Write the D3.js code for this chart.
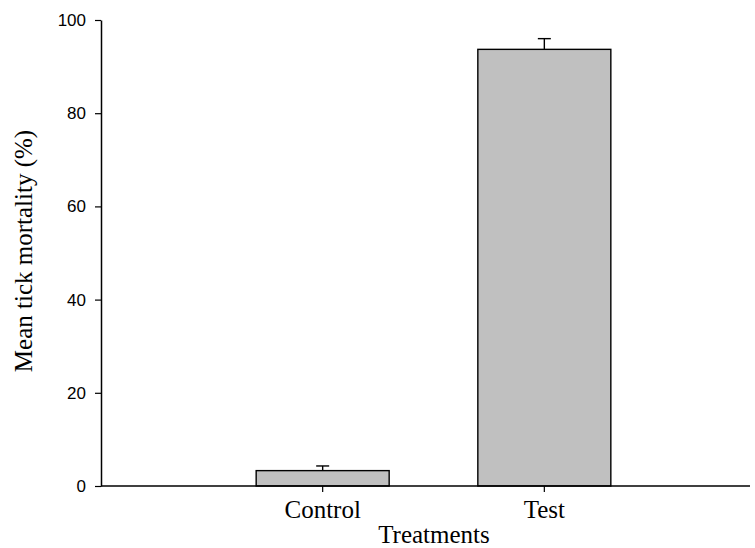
<!DOCTYPE html>
<html><head><meta charset="utf-8">
<script src="https://cdn.jsdelivr.net/npm/d3@7"></script>
<style>body{margin:0;background:#fff}svg{display:block}</style>
</head><body>
<svg id="c" width="755" height="548"></svg>
<script>
const categories = ["Control", "Test"];
const means = [3.3, 93.7];
const errors = [1.0, 2.3];
const yTicks = [0, 20, 40, 60, 80, 100];

(function () {
const svg = d3.select("#c");
const mLeft = 101, mTop = 20, mBottom = 486, mRight = 766;

const x = d3.scaleBand().domain(categories).range([mLeft, mRight])
  .paddingInner(0.4).paddingOuter(0.7);
const y = d3.scaleLinear().domain([0, 100]).range([mBottom, mTop]);

// bars
svg.selectAll("rect.bar").data(categories).enter().append("rect")
  .attr("class", "bar")
  .attr("x", d => x(d))
  .attr("y", (d, i) => y(means[i]))
  .attr("width", x.bandwidth())
  .attr("height", (d, i) => y(0) - y(means[i]))
  .attr("fill", "#c0c0c0").attr("stroke", "#000").attr("stroke-width", 1.4);

// error bars (upper only)
const eg = svg.selectAll("g.err").data(categories).enter().append("g").attr("class", "err")
  .attr("stroke", "#000").attr("stroke-width", 1.4);
eg.append("line")
  .attr("x1", d => x(d) + x.bandwidth() / 2).attr("x2", d => x(d) + x.bandwidth() / 2)
  .attr("y1", (d, i) => y(means[i])).attr("y2", (d, i) => y(means[i] + errors[i]));
eg.append("line")
  .attr("x1", d => x(d) + x.bandwidth() / 2 - 6.5).attr("x2", d => x(d) + x.bandwidth() / 2 + 6.5)
  .attr("y1", (d, i) => y(means[i] + errors[i])).attr("y2", (d, i) => y(means[i] + errors[i]));

// y axis
const yAxis = d3.axisLeft(y).tickValues(yTicks).tickSize(6).tickPadding(9).tickSizeOuter(0);
const ya = svg.append("g").attr("transform", `translate(${mLeft},0)`).call(yAxis);
ya.select(".domain").attr("stroke", "#000").attr("stroke-width", 1.5);
ya.selectAll(".tick line").attr("stroke", "#000").attr("stroke-width", 1.2);
ya.selectAll(".tick text").attr("font-family", "Liberation Sans, Arial, sans-serif")
  .attr("font-size", 17).attr("fill", "#000");

// x axis
const xAxis = d3.axisBottom(x).tickSize(6).tickPadding(8).tickSizeOuter(0);
const xa = svg.append("g").attr("transform", `translate(0,${mBottom})`).call(xAxis);
xa.select(".domain").remove();
xa.append("line").attr("x1", mLeft).attr("x2", 750).attr("y1", 0).attr("y2", 0)
  .attr("stroke", "#000").attr("stroke-width", 1.6);
xa.selectAll(".tick line").attr("stroke", "#000").attr("stroke-width", 1.2);
xa.selectAll(".tick text").attr("font-family", "Liberation Serif, Times New Roman, serif")
  .attr("font-size", 25).attr("fill", "#000");

// axis titles
svg.append("text").attr("x", 434).attr("y", 543).attr("text-anchor", "middle")
  .attr("font-family", "Liberation Serif, Times New Roman, serif").attr("font-size", 25)
  .text("Treatments");
svg.append("text").attr("transform", "translate(32,251) rotate(-90)").attr("text-anchor", "middle")
  .attr("font-family", "Liberation Serif, Times New Roman, serif").attr("font-size", 25)
  .text("Mean tick mortality (%)");
})();
</script>
</body></html>
